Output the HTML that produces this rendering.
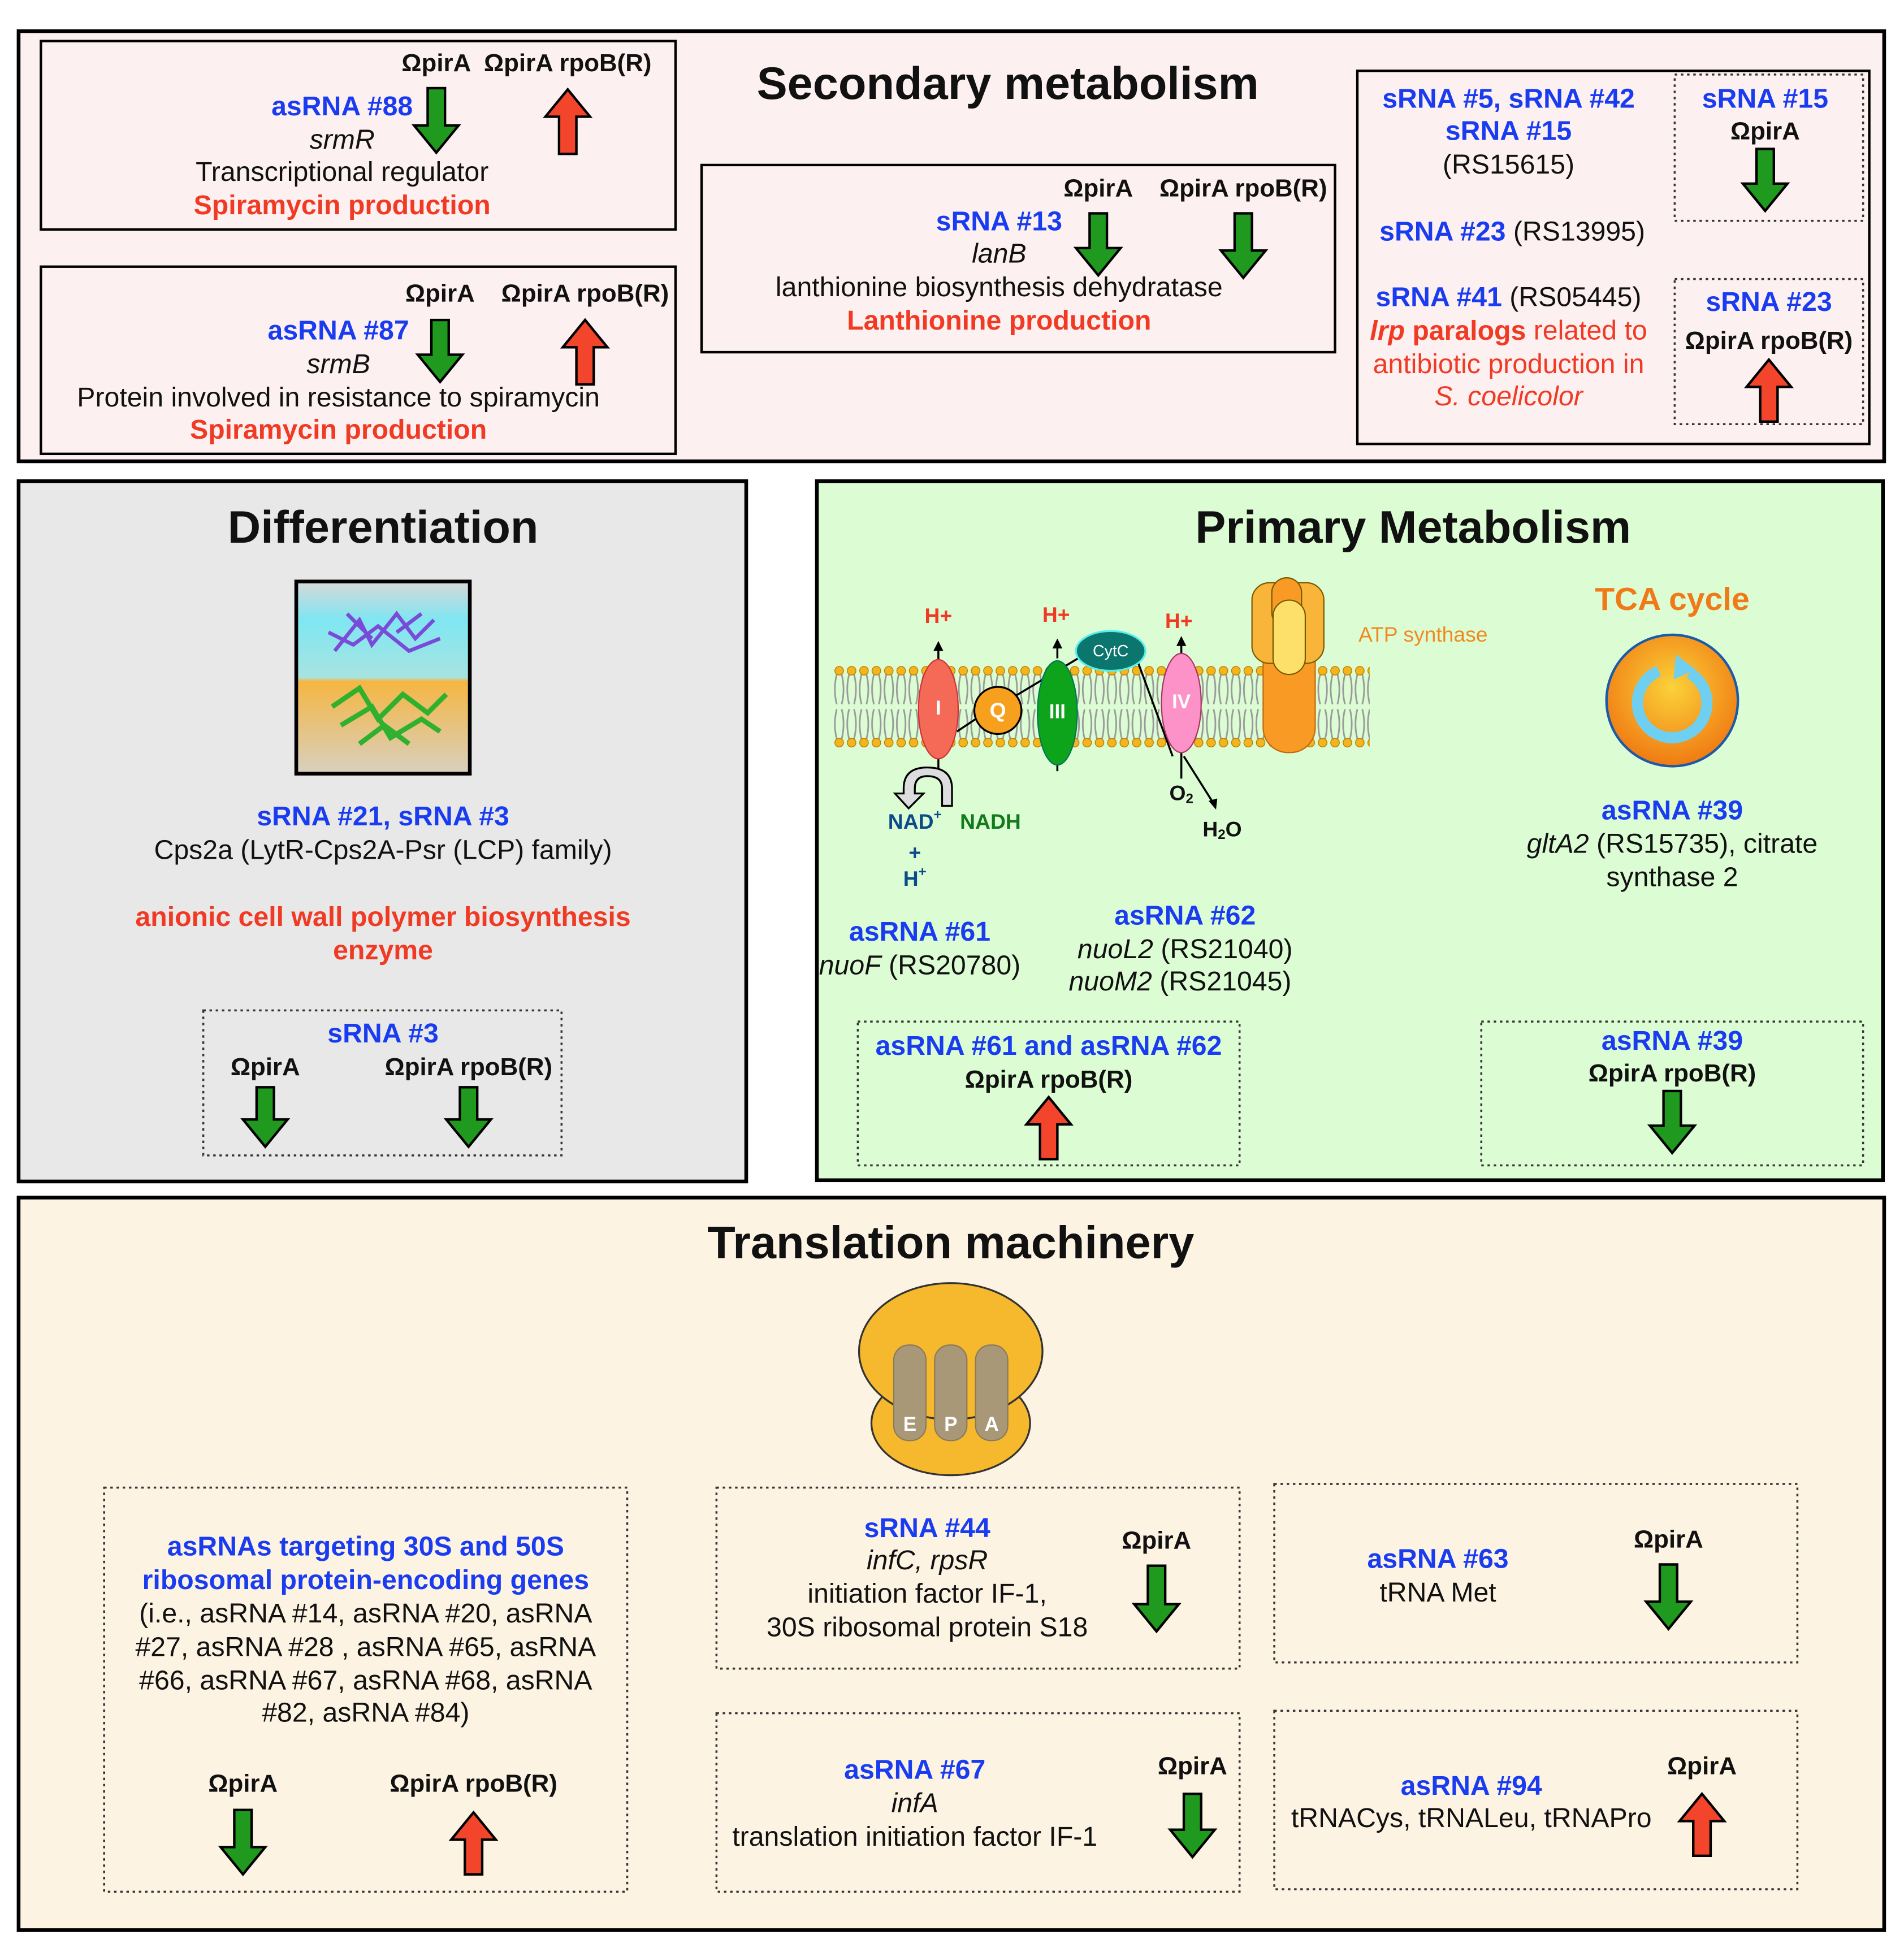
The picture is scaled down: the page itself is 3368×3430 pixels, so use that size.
<!DOCTYPE html>
<html><head><meta charset="utf-8"><style>
html,body{margin:0;padding:0;background:#fff;}
svg{display:block;}
text{font-family:"Liberation Sans",Arial,sans-serif;font-size:22px;text-anchor:middle;dominant-baseline:middle;fill:#111;}
.b{font-weight:bold;font-size:20px;}
.bl{fill:#1a3cf0;font-weight:bold;}
.rd{fill:#f03a24;font-weight:bold;}
.i{font-style:italic;}
.t{font-size:37px;font-weight:bold;}
.dot{fill:none;stroke:#333;stroke-width:1.6;stroke-dasharray:2 3;}
.g{fill:#1f9a1f;stroke:#000;stroke-width:2;}
.r{fill:#f2452b;stroke:#000;stroke-width:2;}
</style></head><body>
<svg width="3368" height="3430" viewBox="0 0 1536 1564" xmlns="http://www.w3.org/2000/svg">
<defs>
<pattern id="lip" x="672" y="536" width="10" height="68" patternUnits="userSpaceOnUse">
<path d="M3 8 Q0 20 3 32 M7 8 Q10 20 7 32 M3 36 Q0 48 3 60 M7 36 Q10 48 7 60" stroke="#999" stroke-width="1.3" fill="none"/>
<circle cx="5" cy="5" r="3.5" fill="#f5b31c" stroke="#b07a00" stroke-width="0.6"/>
<circle cx="5" cy="63" r="3.5" fill="#f5b31c" stroke="#b07a00" stroke-width="0.6"/>
</pattern>
<radialGradient id="tca" cx="0.5" cy="0.4" r="0.6"><stop offset="0" stop-color="#fbd23a"/><stop offset="1" stop-color="#f07a12"/></radialGradient>
<linearGradient id="img" x1="0" y1="0" x2="0" y2="1"><stop offset="0" stop-color="#d8d8d8"/><stop offset="0.2" stop-color="#7fe6f2"/><stop offset="0.5" stop-color="#a7e4e0"/><stop offset="0.52" stop-color="#f5b642"/><stop offset="1" stop-color="#d8d0c0"/></linearGradient>
</defs>

<rect x="15" y="25" width="1505" height="347" fill="#fdf0f0" stroke="#000" stroke-width="3"/>
<text x="813" y="70" class="t">Secondary metabolism</text>
<rect x="33" y="33" width="512" height="152" fill="#fdf0f0" stroke="#000" stroke-width="2"/>
<rect x="33" y="215" width="512" height="151" fill="#fdf0f0" stroke="#000" stroke-width="2"/>
<rect x="566" y="133" width="511" height="151" fill="#fdf0f0" stroke="#000" stroke-width="2"/>
<rect x="1095" y="57" width="413" height="301" fill="#fdf0f0" stroke="#000" stroke-width="2"/>
<rect x="1351" y="60" width="152" height="118" class="dot"/>
<rect x="1351" y="225" width="152" height="117" class="dot"/>

<text x="352" y="52" class="b">ΩpirA</text><text x="458" y="52" class="b">ΩpirA rpoB(R)</text>
<text x="276" y="87" class="bl">asRNA #88</text><text x="276" y="114" class="i">srmR</text>
<text x="276" y="140">Transcriptional regulator</text><text x="276" y="167" class="rd">Spiramycin production</text>

<text x="355" y="238" class="b">ΩpirA</text><text x="472" y="238" class="b">ΩpirA rpoB(R)</text>
<text x="273" y="268" class="bl">asRNA #87</text><text x="273" y="295" class="i">srmB</text>
<text x="273" y="322">Protein involved in resistance to spiramycin</text><text x="273" y="348" class="rd">Spiramycin production</text>

<text x="886" y="153" class="b">ΩpirA</text><text x="1003" y="153" class="b">ΩpirA rpoB(R)</text>
<text x="806" y="180" class="bl">sRNA #13</text><text x="806" y="206" class="i">lanB</text>
<text x="806" y="233">lanthionine biosynthesis dehydratase</text><text x="806" y="260" class="rd">Lanthionine production</text>

<text x="1217" y="81" class="bl">sRNA #5, sRNA #42</text>
<text x="1217" y="107" class="bl">sRNA #15</text>
<text x="1217" y="134">(RS15615)</text>
<text x="1220" y="188"><tspan class="bl">sRNA #23</tspan> (RS13995)</text>
<text x="1217" y="241"><tspan class="bl">sRNA #41</tspan> (RS05445)</text>
<text x="1217" y="268" style="fill:#f03a24"><tspan font-weight="bold" font-style="italic">lrp</tspan><tspan font-weight="bold"> paralogs</tspan> related to</text>
<text x="1217" y="295" style="fill:#f03a24">antibiotic production in</text>
<text x="1217" y="321" style="fill:#f03a24" class="i">S. coelicolor</text>
<text x="1424" y="81" class="bl">sRNA #15</text><text x="1424" y="107" class="b">ΩpirA</text>
<text x="1427" y="245" class="bl">sRNA #23</text><text x="1427" y="276" class="b">ΩpirA rpoB(R)</text>

<rect x="15" y="388" width="587" height="565" fill="#e8e8e8" stroke="#000" stroke-width="3"/>
<text x="309" y="428" class="t">Differentiation</text>
<rect x="239" y="469" width="140" height="155" fill="url(#img)" stroke="#000" stroke-width="3"/>
<g stroke="#7a4ad8" stroke-width="3" fill="none">
<path d="M270 525 L290 500 L300 520 L320 495 L335 515 L350 500 M265 510 L285 520 L305 505 L330 525 L355 515 M280 495 L300 515 M320 510 L340 495"/></g>
<g stroke="#2fb02f" stroke-width="4" fill="none">
<path d="M268 570 L290 555 L305 580 L325 560 L345 575 L360 560 M275 585 L300 570 L315 595 L340 580 L355 590 M290 600 L310 585 L330 600"/></g>
<text x="309" y="660" class="bl">sRNA #21, sRNA #3</text>
<text x="309" y="687">Cps2a (LytR-Cps2A-Psr (LCP) family)</text>
<text x="309" y="741" class="rd">anionic cell wall polymer biosynthesis</text>
<text x="309" y="768" class="rd">enzyme</text>
<rect x="164" y="815" width="289" height="117" class="dot"/>
<text x="309" y="835" class="bl">sRNA #3</text>
<text x="214" y="862" class="b">ΩpirA</text><text x="378" y="862" class="b">ΩpirA rpoB(R)</text>

<rect x="659" y="388" width="860" height="564" fill="#dcfcd4" stroke="#000" stroke-width="3"/>
<text x="1140" y="428" class="t">Primary Metabolism</text>
<rect x="672" y="536" width="433" height="68" fill="url(#lip)"/>
<g stroke="#000" stroke-width="1.6" fill="none">
<path d="M757 532 V522"/><path d="M757 612 V628"/>
<path d="M853 531 V520"/><path d="M853 615 V622"/>
<path d="M953 527 V518"/><path d="M953 607 V628"/>
<path d="M772 590 L790 578"/><path d="M818 562 L888 520"/>
<path d="M918 534 L946 610"/><path d="M955 610 L979 648"/>
</g>
<g fill="#000"><path d="M757 517 l-4 8 h8z"/><path d="M853 515 l-4 8 h8z"/><path d="M953 513 l-4 8 h8z"/><path d="M893 517 l-9 1 4 6z"/><path d="M981 653 l-6 -7 7 -2z"/></g>
<text x="757" y="498" class="rd" style="font-size:17px">H+</text>
<text x="852" y="497" class="rd" style="font-size:17px">H+</text>
<text x="951" y="502" class="rd" style="font-size:17px">H+</text>
<ellipse cx="757" cy="572" rx="16" ry="40" fill="#f56a56" stroke="#c33" stroke-width="1"/>
<text x="757" y="572" style="fill:#fff;font-weight:bold;font-size:16px">I</text>
<circle cx="805" cy="573" r="19" fill="#f7a01e" stroke="#000" stroke-width="1.5"/>
<text x="805" y="574" style="fill:#fff;font-weight:bold;font-size:17px">Q</text>
<ellipse cx="853" cy="575" rx="16" ry="42" fill="#0da31a" stroke="#075" stroke-width="1"/>
<text x="853" y="575" style="fill:#fff;font-weight:bold;font-size:16px">III</text>
<ellipse cx="896" cy="525" rx="28" ry="16" fill="#0b766e" stroke="#5ee" stroke-width="1.5"/>
<text x="896" y="526" style="fill:#fff;font-size:13px">CytC</text>
<ellipse cx="953" cy="567" rx="16" ry="40" fill="#fc92c8" stroke="#a36" stroke-width="1"/>
<text x="953" y="567" style="fill:#fff;font-weight:bold;font-size:16px">IV</text>
<rect x="1019" y="510" width="42" height="97" rx="20" fill="#f89a24" stroke="#c06a10" stroke-width="1"/>
<rect x="1010" y="470" width="58" height="65" rx="14" fill="#f9b53a" stroke="#7a5a00" stroke-width="1"/>
<rect x="1026" y="466" width="24" height="40" rx="12" fill="#f89a24" stroke="#7a5a00" stroke-width="1"/>
<rect x="1027" y="484" width="26" height="60" rx="13" fill="#fde06a" stroke="#7a5a00" stroke-width="1"/>
<text x="1148" y="513" style="fill:#f08a20;font-size:17px">ATP synthase</text>
<path d="M760 650 V636 Q760 626 748 626 Q738 626 738 636 V640 H745 L733 652 L722 640 H729 V636 Q729 619 748 619 Q768 619 768 636 V650 Z" fill="#ddd" stroke="#000" stroke-width="1.5"/>
<text x="738" y="664" style="fill:#0d4a8a;font-weight:bold;font-size:17px">NAD<tspan font-size="11" dy="-6">+</tspan></text>
<text x="799" y="664" style="fill:#117a1a;font-weight:bold;font-size:17px">NADH</text>
<text x="738" y="689" style="fill:#0d4a8a;font-weight:bold;font-size:17px">+</text>
<text x="738" y="710" style="fill:#0d4a8a;font-weight:bold;font-size:17px">H<tspan font-size="11" dy="-6">+</tspan></text>
<text x="953" y="641" class="b" style="font-size:17px">O<tspan font-size="11" dy="4">2</tspan></text>
<text x="986" y="670" class="b" style="font-size:17px">H<tspan font-size="11" dy="4">2</tspan><tspan dy="-4">O</tspan></text>
<text x="1349" y="485" style="fill:#f07a18;font-weight:bold;font-size:26px">TCA cycle</text>
<circle cx="1349" cy="565" r="53" fill="url(#tca)" stroke="#1a5aa8" stroke-width="2"/>
<circle cx="1349" cy="567" r="28" fill="none" stroke="#6ecff0" stroke-width="9" stroke-dasharray="150 30" transform="rotate(-60 1349 567)"/>
<path d="M1352 528 l16 12 -18 8z" fill="#6ecff0"/>
<text x="742" y="753" class="bl">asRNA #61</text><text x="742" y="780"><tspan class="i">nuoF</tspan> (RS20780)</text>
<text x="956" y="740" class="bl">asRNA #62</text>
<text x="956" y="767"><tspan class="i">nuoL2</tspan> (RS21040)</text>
<text x="952" y="793"><tspan class="i">nuoM2</tspan> (RS21045)</text>
<text x="1349" y="655" class="bl">asRNA #39</text>
<text x="1349" y="682"><tspan class="i">gltA2</tspan> (RS15735), citrate</text>
<text x="1349" y="709">synthase 2</text>
<rect x="692" y="824" width="308" height="116" class="dot"/>
<text x="846" y="845" class="bl">asRNA #61 and asRNA #62</text><text x="846" y="872" class="b">ΩpirA rpoB(R)</text>
<rect x="1195" y="824" width="308" height="116" class="dot"/>
<text x="1349" y="841" class="bl">asRNA #39</text><text x="1349" y="867" class="b">ΩpirA rpoB(R)</text>

<rect x="15" y="966" width="1505" height="591" fill="#fdf3e3" stroke="#000" stroke-width="3"/>
<text x="767" y="1005" class="t">Translation machinery</text>
<ellipse cx="767" cy="1148" rx="64" ry="42" fill="#f6b92e" stroke="#333" stroke-width="1.5"/>
<ellipse cx="767" cy="1090" rx="74" ry="55" fill="#f6b92e" stroke="#333" stroke-width="1.5"/>
<g fill="#a89878" stroke="#8a7a5a"><rect x="721" y="1085" width="26" height="77" rx="12"/><rect x="754" y="1085" width="26" height="77" rx="12"/><rect x="787" y="1085" width="26" height="77" rx="12"/></g>
<text x="734" y="1150" style="fill:#fff;font-weight:bold;font-size:16px">E</text>
<text x="767" y="1150" style="fill:#fff;font-weight:bold;font-size:16px">P</text>
<text x="800" y="1150" style="fill:#fff;font-weight:bold;font-size:16px">A</text>

<rect x="84" y="1200" width="422" height="326" class="dot"/>
<text x="295" y="1249" class="bl">asRNAs targeting 30S and 50S</text>
<text x="295" y="1276" class="bl">ribosomal protein-encoding genes</text>
<text x="295" y="1303">(i.e., asRNA #14, asRNA #20, asRNA</text>
<text x="295" y="1330">#27, asRNA #28 , asRNA #65, asRNA</text>
<text x="295" y="1357">#66, asRNA #67, asRNA #68, asRNA</text>
<text x="295" y="1383">#82, asRNA #84)</text>
<text x="196" y="1440" class="b">ΩpirA</text><text x="382" y="1440" class="b">ΩpirA rpoB(R)</text>

<rect x="578" y="1200" width="422" height="146" class="dot"/>
<text x="748" y="1234" class="bl">sRNA #44</text><text x="748" y="1260" class="i">infC, rpsR</text>
<text x="748" y="1287">initiation factor IF-1,</text><text x="748" y="1314">30S ribosomal protein S18</text>
<text x="933" y="1244" class="b">ΩpirA</text>

<rect x="1028" y="1197" width="422" height="144" class="dot"/>
<text x="1160" y="1259" class="bl">asRNA #63</text><text x="1160" y="1286">tRNA Met</text>
<text x="1346" y="1243" class="b">ΩpirA</text>

<rect x="578" y="1382" width="422" height="144" class="dot"/>
<text x="738" y="1429" class="bl">asRNA #67</text><text x="738" y="1456" class="i">infA</text>
<text x="738" y="1483">translation initiation factor IF-1</text>
<text x="962" y="1426" class="b">ΩpirA</text>

<rect x="1028" y="1380" width="422" height="144" class="dot"/>
<text x="1187" y="1442" class="bl">asRNA #94</text><text x="1187" y="1468">tRNACys, tRNALeu, tRNAPro</text>
<text x="1373" y="1426" class="b">ΩpirA</text>

<g class="g">
<path d="M345 71 H359 V101 H370 L352 123 L334 101 H345 Z"/>
<path d="M348 258 H362 V286 H373 L355 308 L337 286 H348 Z"/>
<path d="M879 172 H893 V200 H904 L886 222 L868 200 H879 Z"/>
<path d="M996 172 H1010 V202 H1021 L1003 224 L985 202 H996 Z"/>
<path d="M1417 120 H1431 V148 H1442 L1424 170 L1406 148 H1417 Z"/>
<path d="M207 877 H221 V903 H232 L214 925 L196 903 H207 Z"/>
<path d="M371 877 H385 V903 H396 L378 925 L360 903 H371 Z"/>
<path d="M1342 880 H1356 V908 H1367 L1349 930 L1331 908 H1342 Z"/>
<path d="M189 1460 H203 V1490 H214 L196 1512 L178 1490 H189 Z"/>
<path d="M926 1263 H940 V1294 H951 L933 1316 L915 1294 H926 Z"/>
<path d="M1339 1262 H1353 V1292 H1364 L1346 1314 L1328 1292 H1339 Z"/>
<path d="M955 1447 H969 V1476 H980 L962 1498 L944 1476 H955 Z"/>
</g>
<g class="r">
<path d="M451 124 H465 V94 H476 L458 72 L440 94 H451 Z"/>
<path d="M465 310 H479 V280 H490 L472 258 L454 280 H465 Z"/>
<path d="M1420 340 H1434 V312 H1445 L1427 290 L1409 312 H1420 Z"/>
<path d="M839 935 H853 V907 H864 L846 885 L828 907 H839 Z"/>
<path d="M375 1512 H389 V1484 H400 L382 1462 L364 1484 H375 Z"/>
<path d="M1366 1497 H1380 V1469 H1391 L1373 1447 L1355 1469 H1366 Z"/>
</g>
</svg>
</body></html>
